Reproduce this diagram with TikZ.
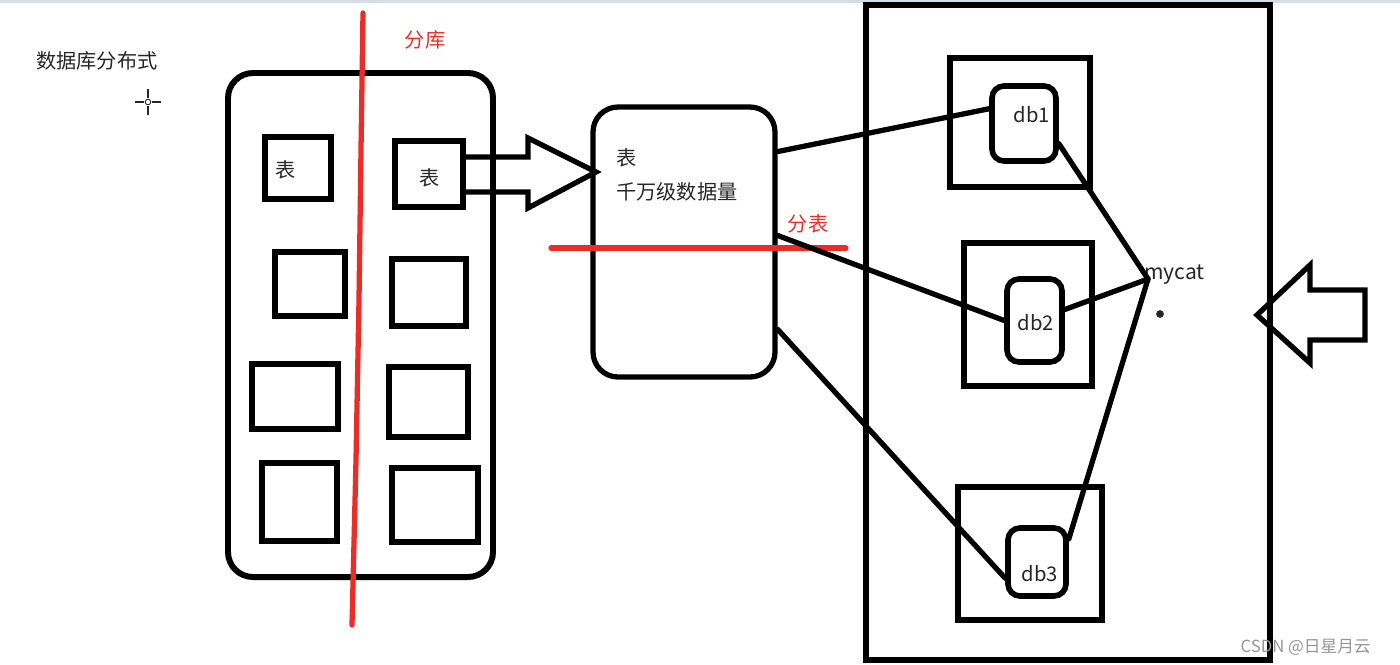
\documentclass[tikz,border=0pt]{standalone}
\usepackage{fontspec}
\setmainfont{Noto Sans CJK SC}
\usetikzlibrary{fit}
\definecolor{cutred}{RGB}{232,46,38}
\definecolor{ink}{RGB}{38,38,38}
\definecolor{wmgray}{RGB}{150,150,150}
\definecolor{topbar}{RGB}{214,221,232}

\begin{document}
\begin{tikzpicture}[x=0.02cm, y=-0.02cm,
    box/.style={draw, line width=3.2pt, inner sep=0pt},
    rbox/.style={box, line width=3.4pt, rounded corners=0.5cm},
    dbbox/.style={box, rounded corners=0.24cm},
    link/.style={line width=3pt, line cap=round},
    hollow/.style={line width=3pt, line join=miter},
    cut/.style={cutred, line width=3pt, line cap=round},
    lbl/.style={font=\fontsize{11.5}{13}\selectfont, text=ink, inner sep=0pt},
    redlbl/.style={lbl, text=cutred}]

  \useasboundingbox (0,0) rectangle (1400,664);
  \fill[topbar] (0,0) rectangle (1400,3);

  % === Title and cursor ===
  \node[lbl, anchor=west] (title) at (36,61) {数据库分布式};
  \draw[ink, line width=0.6pt] (135,102) -- (144,102) (152,102) -- (161,102)
    (148,89) -- (148,98) (148,106) -- (148,115);
  \draw[ink, line width=0.5pt] (148,102) circle (1.6pt);

  % === Database with its tables ===
  \node[rbox, fit={(228,73) (493,577)}] (db) {};
  \node[box, fit={(265,137) (331,199)}] (tl1) {};
  \node[box, fit={(275,252) (345,316)}] (tl2) {};
  \node[box, fit={(252,364) (338,429)}] (tl3) {};
  \node[box, fit={(262,463) (337,541)}] (tl4) {};
  \node[box, fit={(395,141) (463,207)}] (tr1) {};
  \node[box, fit={(392,259) (466,326)}] (tr2) {};
  \node[box, fit={(389,367) (468,437)}] (tr3) {};
  \node[box, fit={(392,468) (478,542)}] (tr4) {};
  \node[lbl] (tl1name) at (286,170) {表};
  \node[lbl] (tr1name) at (430,178) {表};

  % split into databases
  \draw[cut] (363,13) -- (361,150) -- (359,300) -- (356,460) -- (352,625);
  \node[redlbl] (splitdb) at (425,40) {分库};

  % === Big table ===
  \draw[hollow] (463,157) -- (528,157) -- (528,138) -- (596,172)
    -- (528,208) -- (528,192) -- (463,192);
  \node[rbox, line width=3pt, fit={(593,107) (775,377)}] (big) {};
  \node[lbl, anchor=west] (bigname) at (616,158) {表};
  \node[lbl, anchor=west] (bigsize) at (616,192) {千万级数据量};

  % split into tables
  \draw[cut] (551,248) -- (846,248);
  \node[redlbl] (splittb) at (808,224) {分表};

  % === Mycat cluster ===
  \node[box, fit={(866,5) (1270,660)}] (cluster) {};
  \node[box, fit={(950,58) (1090,187)}] (n1) {};
  \node[box, fit={(964,243) (1092,386)}] (n2) {};
  \node[box, fit={(958,487) (1102,620)}] (n3) {};
  \node[dbbox, fit={(992,86) (1056,161)}] (db1) {};
  \node[dbbox, fit={(1007,279) (1062,362)}] (db2) {};
  \node[dbbox, fit={(1008,528) (1066,596)}] (db3) {};
  \node[lbl] (db1name) at (1032,115) {db1};
  \node[lbl] (db2name) at (1036,323) {db2};
  \node[lbl] (db3name) at (1040,574) {db3};
  \node[lbl, anchor=west, font=\fontsize{12}{14}\selectfont] (mycat) at (1144,275) {mycat};
  \coordinate (hub) at (1148,279);
  \fill[ink] (1160,314) circle (2.2pt);

  % table shards to databases
  \draw[link] (big.44) -- (db1.157);
  \draw[link] (big.4) -- (db2.west);
  \draw[link] (big.-43) -- (db3.207);

  % mycat to databases
  \draw[link] (hub) -- (db1.-30);
  \draw[link] (hub) -- (db2.20);
  \draw[link] (hub) -- (db3.36);

  % incoming requests
  \draw[hollow] (1365,290) -- (1310,290) -- (1310,265) -- (1257,315)
    -- (1310,363) -- (1310,340) -- (1365,340) -- cycle;

  \node[font=\fontsize{9.5}{11}\selectfont, text=wmgray, anchor=east, inner sep=0pt]
    (mark) at (1371,647) {CSDN @日星月云};

\end{tikzpicture}
\end{document}
